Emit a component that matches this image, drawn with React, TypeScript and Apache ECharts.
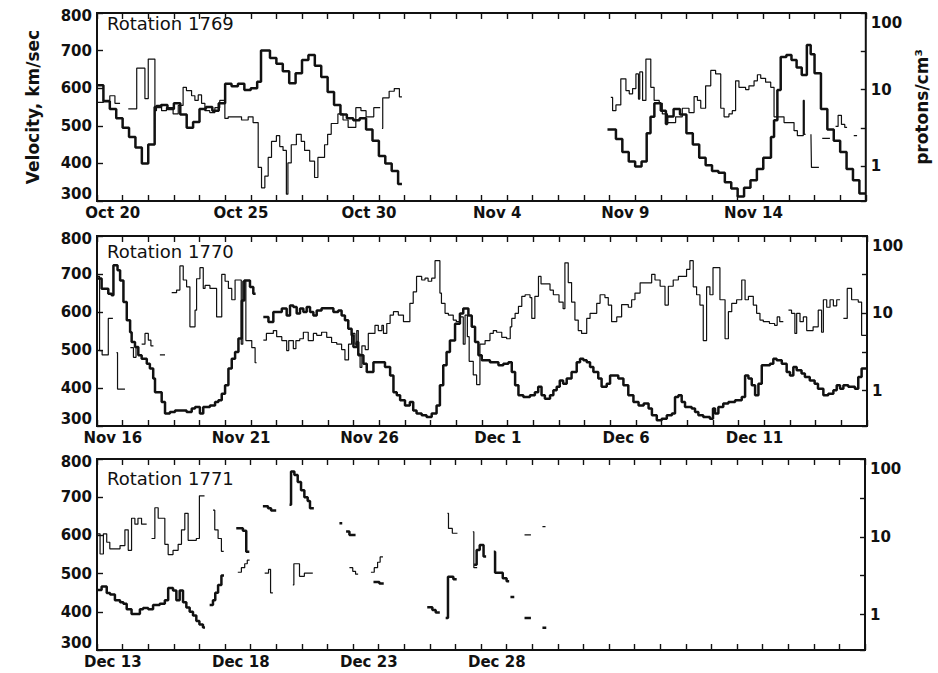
import React, { useEffect, useRef } from 'react';
import * as echarts from 'echarts';

// ---------------- data ----------------
const ROTATION_TITLES = ['Rotation 1769', 'Rotation 1770', 'Rotation 1771'];
const ROTATION_START = ['1962-10-20', '1962-11-16', '1962-12-13'];
const DAYS_SHOWN = 30;
const LABELED_DATES = [6, 6, 4]; // how many 5-day date labels each panel carries
const MONTH_NAMES = ['Jan', 'Feb', 'Mar', 'Apr', 'May', 'Jun', 'Jul', 'Aug', 'Sep', 'Oct', 'Nov', 'Dec'];
const VELOCITY_MIN = 300;
const VELOCITY_MAX = 800;
const VELOCITY_STEP = 100;
const DENSITY_MIN = 0.35;
const DENSITY_MAX = 100;
const VELOCITY_NAME = 'Velocity, km/sec';
const DENSITY_NAME = 'protons/cm³';

// [day from rotation start, value]; null = data gap begins
const vel1769 = [
  [0, 608], [0.25, 565], [0.5, 545], [0.75, 520], [1, 495], [1.25, 470], [1.5, 442], [1.75, 400], [2, 450], [2.25, 550],
  [2.5, 555], [2.75, 545], [3, 560], [3.25, 530], [3.5, 495], [3.75, 510], [4, 545], [4.25, 550], [4.5, 540], [4.75, 560],
  [5, 612], [5.25, 605], [5.5, 612], [5.75, 595], [6, 600], [6.25, 617], [6.4, 700], [6.75, 680], [7, 665], [7.25, 645],
  [7.5, 613], [7.75, 640], [8, 675], [8.25, 688], [8.5, 660], [8.75, 630], [9, 590], [9.25, 555], [9.5, 530], [9.75, 520],
  [10, 515], [10.25, 520], [10.5, 490], [10.75, 460], [11, 420], [11.25, 400], [11.5, 380], [11.75, 345], [11.9, null],
  [19.92, 490], [20.25, 465], [20.5, 430], [20.75, 405], [21, 392], [21.25, 405], [21.45, 480], [21.6, 524], [21.75, 560],
  [22, 540], [22.2, 505], [22.25, 525], [22.5, 545], [22.75, 530], [23, 480], [23.25, 450], [23.5, 415], [23.75, 395],
  [24, 380], [24.25, 375], [24.5, 350], [24.75, 333], [25, 312], [25.25, 335], [25.5, 355], [25.75, 385], [26, 415],
  [26.3, 470], [26.42, 515], [26.55, 595], [26.68, 683], [26.9, 688], [27.1, 675], [27.3, 655], [27.5, 635], [27.7, 715],
  [27.85, 690], [28, 640], [28.25, 545], [28.5, 490], [28.75, 460], [29, 430], [29.25, 385], [29.5, 355], [29.75, 320],
  [30, null],
];
const den1769 = [
  [0, 6.8], [0.25, 7.2], [0.5, 8.3], [0.7, 6.6], [0.9, null],
  [1.22, 5.6], [1.55, 19], [1.87, 7.6], [2.0, 25], [2.26, 5.3], [2.32, 6.2], [2.52, 5.3], [2.71, 5.8], [2.97, 4.8],
  [3.17, 6.2], [3.36, 10.7], [3.49, 9.7], [3.69, 8.3], [3.82, 7.2], [3.95, 8.5], [4.08, 6.6], [4.21, 5.3], [4.4, 5.0],
  [4.6, 5.8], [4.79, 7.2], [4.99, 4.2], [5.12, 4.4], [5.64, 4.0], [5.9, 4.4], [6.09, 3.7], [6.29, 0.96], [6.42, 0.52],
  [6.55, 0.74], [6.68, 1.3], [6.81, 2.1], [7.0, 2.5], [7.13, 1.8], [7.26, 1.6], [7.39, 0.43], [7.45, 1.1], [7.58, 1.9],
  [7.78, 2.6], [7.97, 2.1], [8.1, 1.6], [8.3, 1.16], [8.49, 0.71], [8.62, 1.3], [8.88, 1.9], [9.0, 2.6], [9.14, 3.6],
  [9.4, 4.8], [9.6, 4.0], [9.8, 3.2], [10.1, 5.8], [10.3, 5.3], [10.5, 4.4], [10.8, 5.8], [11.05, null],
  [11.12, 3.1], [11.15, 7.8], [11.4, 9.5], [11.6, 10.3], [11.8, 8.0], [11.9, null],
  [20.05, 7.9], [20.12, 5.3], [20.25, 6.3], [20.44, 13.8], [20.64, 9.7], [20.77, 8.8], [20.9, 10.3], [21.03, 16],
  [21.13, 7.5], [21.18, 17], [21.29, 7.2], [21.42, 25], [21.61, 10.7], [21.74, 7.2], [21.94, 6.6], [22.06, 4.8],
  [22.26, 3.7], [22.58, 4.4], [22.84, 5.7], [23.1, 5.0], [23.3, 8.1], [23.43, 7.2], [23.56, 5.7], [23.75, 11.2],
  [23.95, 17.8], [24.14, 16], [24.34, 5.7], [24.47, 4.4], [24.66, 4.8], [24.79, 5.3], [24.92, 13], [25.05, 10.7],
  [25.31, 10], [25.44, 11.2], [25.64, 13], [25.77, 15.6], [25.9, 14], [26.09, 12.5], [26.29, 10.7], [26.42, 4.4],
  [26.81, 3.7], [27.2, 2.9], [27.33, 2.5], [27.56, 7.2], [27.6, 2.6], [27.65, null],
  [27.86, 2.6], [27.88, 0.96], [28.17, null],
  [28.3, 2.3], [28.6, null],
  [28.82, 3.3], [28.92, 4.6], [29.05, 3.5], [29.18, 3.2], [29.27, null],
  [29.53, 2.5], [29.66, null],
];
const vel1770 = [
  [0, 688], [0.18, 661], [0.44, 648], [0.57, 644], [0.64, 723], [0.8, 710], [0.9, 683], [1.03, 626], [1.16, 578],
  [1.29, 547], [1.35, 521], [1.48, 508], [1.61, 486], [1.74, 477], [1.94, 464], [2.06, 451], [2.19, 425], [2.26, 389],
  [2.52, 363], [2.65, 333], [2.84, 337], [3.04, 341], [3.3, 341], [3.49, 337], [3.69, 346], [3.82, 350], [4.01, 333],
  [4.14, 350], [4.4, 354], [4.6, 363], [4.73, 368], [4.86, 385], [4.99, 407], [5.12, 451], [5.25, 477], [5.38, 495],
  [5.51, 530], [5.64, 630], [5.74, 683], [5.96, 666], [6.09, 648], [6.18, null],
  [6.48, 587], [6.68, 574], [6.87, 600], [7.2, 609], [7.39, 591], [7.52, 617], [7.65, 613], [7.78, 596], [7.91, 609],
  [8.04, 600], [8.17, 613], [8.3, 600], [8.43, 591], [8.56, 604], [8.75, 610], [9.21, 600], [9.4, 604], [9.53, 591],
  [9.66, 578], [9.79, 556], [9.92, 539], [9.99, 508], [10.12, 521], [10.18, 486], [10.38, 464], [10.51, 442],
  [10.77, 468], [11.22, 455], [11.42, 433], [11.55, 389], [11.68, 381], [11.81, 368], [12.0, 354], [12.19, 363],
  [12.32, 341], [12.45, 333], [12.65, 328], [12.84, 324], [13.04, 333], [13.23, 354], [13.36, 407], [13.49, 460],
  [13.62, 495], [13.75, 525], [13.95, 569], [14.14, 596], [14.27, 609], [14.47, 591], [14.6, 561], [14.73, 521],
  [14.86, 486], [14.99, 473], [15.31, 468], [15.64, 460], [15.83, 464], [16.03, 468], [16.16, 442], [16.29, 407],
  [16.42, 381], [16.61, 376], [16.87, 381], [17.06, 389], [17.19, 403], [17.32, 381], [17.45, 372], [17.65, 381],
  [17.78, 394], [17.91, 403], [18.03, 420], [18.16, 411], [18.3, 425], [18.49, 442], [18.69, 468], [18.82, 477],
  [18.95, 473], [19.08, 468], [19.21, 455], [19.34, 442], [19.53, 425], [19.66, 403], [19.86, 411], [19.99, 433],
  [20.31, 425], [20.51, 407], [20.7, 381], [20.9, 363], [21.1, 354], [21.3, 359], [21.49, 346], [21.62, 328],
  [21.81, 315], [22.0, 319], [22.2, 328], [22.4, 333], [22.52, 376], [22.65, 381], [22.78, 363], [22.91, 350],
  [23.17, 346], [23.3, 337], [23.43, 328], [23.62, 324], [23.88, 319], [24.0, 346], [24.08, 333], [24.21, 350],
  [24.4, 359], [24.6, 363], [24.86, 368], [25.12, 376], [25.25, 433], [25.38, 425], [25.51, 407], [25.64, 381],
  [25.77, 411], [25.9, 460], [26.22, 464], [26.35, 477], [26.48, 473], [26.68, 464], [26.87, 442], [27.0, 433],
  [27.13, 455], [27.26, 447], [27.45, 438], [27.58, 429], [27.77, 420], [27.96, 411], [28.09, 398], [28.3, 381],
  [28.49, 385], [28.69, 394], [28.82, 407], [28.95, 398], [29.08, 407], [29.27, 403], [29.53, 398], [29.66, 429],
  [29.79, 451], [30, null],
];
const den1770 = [
  [0, 30], [0.1, 3.3], [0.2, 2.9], [0.44, 8.6], [0.62, null],
  [0.76, 3.1], [0.8, 1.05], [1.09, null],
  [1.3, 3.6], [1.42, 2.7], [1.52, 3.6], [1.58, null],
  [1.74, 4.0], [1.87, 5.5], [2.0, 4.5], [2.1, 3.8], [2.2, null],
  [2.45, 2.9], [2.65, null],
  [2.91, 18.5], [3.1, 20], [3.23, 41], [3.36, 27], [3.49, 22], [3.62, 6.7], [3.82, 11], [3.88, 28], [4.01, 39],
  [4.14, 21], [4.21, 23], [4.4, 21], [4.66, 9], [4.86, 32], [4.99, 26], [5.12, 21], [5.25, 15], [5.38, 27], [5.62, 4.0],
  [5.68, 26], [5.8, 4.45], [6.03, 3.6], [6.16, 2.3], [6.22, null],
  [6.48, 4.5], [6.6, 5.5], [6.87, 6.0], [7.0, 5.0], [7.2, 4.45], [7.39, 3.3], [7.47, 4.45], [7.65, 3.5], [7.75, 4.45],
  [7.9, 4.7], [8.04, 5.7], [8.23, 4.45], [8.43, 5.5], [8.56, 5.2], [8.75, 5.7], [8.95, 4.9], [9.14, 4.2], [9.34, 4.0],
  [9.53, 3.4], [9.66, 2.5], [9.8, 4.0], [9.92, 5.5], [10.05, 4.0], [10.12, 6.0], [10.18, 3.0], [10.25, 2.0],
  [10.32, 3.8], [10.45, 3.4], [10.57, 5.5], [10.83, 7.0], [10.96, 6.0], [11.1, 7.0], [11.16, 5.5], [11.29, 7.4],
  [11.42, 9.5], [11.55, 10.5], [11.74, 9.5], [11.94, 7.8], [12.19, 13.5], [12.32, 19], [12.45, 30], [12.65, 27],
  [12.78, 28.5], [12.9, 26], [13.04, 28.5], [13.17, 48], [13.36, 18.3], [13.42, 13.5], [13.56, 10], [13.69, 9.5],
  [13.88, 8.2], [14.0, 7.8], [14.14, 9.0], [14.27, 4.0], [14.34, 9.5], [14.43, 5.0], [14.5, 2.4], [14.66, 1.6],
  [14.79, 1.2], [14.92, 4.0], [15.12, 4.45], [15.31, 5.5], [15.44, 6.0], [15.57, 5.7], [15.77, 4.9], [15.96, 4.7],
  [16.1, 6.7], [16.16, 8.6], [16.29, 10], [16.42, 12.3], [16.55, 16.6], [16.68, 17.4], [16.87, 16], [16.94, 8.6],
  [17.06, 16.6], [17.2, 30], [17.3, 24], [17.65, 20], [17.78, 17.4], [18.0, 14], [18.16, 11.5], [18.23, 45],
  [18.36, 25], [18.49, 14], [18.62, 8.2], [18.75, 6.0], [18.88, 5.5], [19.08, 8.6], [19.21, 10], [19.47, 13.5],
  [19.6, 17.4], [19.79, 16], [19.92, 12.8], [20.05, 7.8], [20.25, 9.0], [20.44, 13], [20.7, 12], [20.83, 15],
  [20.96, 18.3], [21.16, 24.8], [21.61, 32], [21.74, 27], [21.94, 22.4], [22.13, 12.8], [22.26, 22.4], [22.45, 27],
  [22.65, 30], [22.97, 37], [23.1, 48], [23.23, 22], [23.36, 17.4], [23.49, 12.8], [23.62, 4.45], [23.75, 22],
  [23.88, 17.4], [24.0, 39], [24.27, 15], [24.47, 4.7], [24.6, 10.5], [24.73, 13.5], [24.92, 15], [25.12, 27],
  [25.25, 15], [25.38, 16.6], [25.57, 12.8], [25.7, 10], [25.83, 8.2], [25.96, 7.8], [26.2, 7.4], [26.4, 7.0],
  [26.5, 9.0], [26.6, 7.8], [26.74, null],
  [26.94, 11], [27.06, 10], [27.19, 5.5], [27.26, 10], [27.39, 7.8], [27.52, 9.0], [27.65, 6.0], [27.9, 6.7],
  [28.1, 11], [28.23, 5.7], [28.3, 15], [28.43, 12], [28.56, 15], [28.69, 12.5], [28.82, 15], [28.95, null],
  [29.08, 8.6], [29.23, 21], [29.4, 15], [29.66, 14], [29.79, 5.2], [30, null],
];
const vel1771 = [
  [0, 457], [0.18, 466], [0.38, 449], [0.51, 445], [0.7, 430], [0.9, 425], [1.03, 421], [1.16, 407], [1.35, 394],
  [1.675, 407], [1.8, 410], [2.0, 407], [2.19, 418], [2.45, 421], [2.65, 430], [2.78, 462], [2.97, 456], [3.1, 430],
  [3.23, 456], [3.36, 425], [3.49, 411], [3.62, 400], [3.75, 390], [3.88, 376], [4.0, 367], [4.14, 359], [4.22, null],
  [4.4, 418], [4.53, 430], [4.62, 450], [4.73, 470], [4.86, 495], [4.96, null],
  [5.44, 619], [5.7, 612], [5.83, 557], [5.95, null],
  [6.48, 676], [6.68, 671], [6.8, 665], [7.0, null],
  [7.52, 680], [7.58, 767], [7.71, 758], [7.84, 740], [7.97, 718], [8.1, 700], [8.23, 690], [8.32, 671], [8.47, null],
  [9.47, 632], [9.58, null],
  [9.73, 610], [9.86, 601], [10.1, null],
  [10.8, 478], [11.03, 474], [11.2, null],
  [12.9, 412], [13.1, 405], [13.23, 398], [13.39, null],
  [13.62, 384], [13.71, 492], [13.92, 485], [14.05, null],
  [14.73, 523], [14.83, 562], [14.95, 575], [15.1, 545], [15.2, null],
  [15.5, 557], [15.55, 502], [15.85, 488], [16.0, 480], [16.1, null],
  [16.15, 439], [16.3, null],
  [16.7, 384], [16.95, null],
  [17.4, 358], [17.55, null],
];
const den1771 = [
  [0, 10.9], [0.12, 6.0], [0.25, 10.9], [0.38, 8.5], [0.5, 7.0], [0.9, 7.7], [1.09, 12.3], [1.22, 6.7], [1.35, 17.3],
  [1.48, 14.5], [1.6, 17.3], [1.74, 14.5], [1.94, null],
  [2.13, 9.5], [2.26, 23.6], [2.39, 17.3], [2.65, 8.0], [2.78, 5.9], [2.97, 6.7], [3.17, 8.0], [3.3, 12.3], [3.43, 20],
  [3.56, 9.0], [3.88, 9.5], [4.0, 33.6], [4.2, null],
  [4.53, 22], [4.6, 12.3], [4.73, 9.5], [4.86, 6.5], [4.95, null],
  [5.5, 3.5], [5.64, 4.0], [5.77, 4.5], [5.87, 5.0], [5.96, null],
  [6.55, 3.4], [6.7, 3.8], [6.78, 1.9], [6.87, null],
  [7.65, 2.4], [7.69, 4.5], [7.91, 3.1], [8.1, 3.4], [8.43, null],
  [9.86, 4.0], [9.99, 3.6], [10.1, 3.3], [10.2, null],
  [10.7, 3.5], [10.83, 4.0], [10.96, 4.7], [11.06, 5.5], [11.17, null],
  [13.69, 20], [13.73, 12.8], [13.88, 11.1], [14.08, null],
  [14.68, 11.6], [14.72, 4.0], [14.85, null],
  [16.7, 10.6], [16.95, null],
  [17.4, 13.5], [17.52, null],
];

const VELOCITY_SERIES = [vel1769, vel1770, vel1771];
const DENSITY_SERIES = [den1769, den1770, den1771];

// ---------------- layout & style ----------------
const GRIDS = [
  { left: 97, top: 13, width: 770, height: 188 },
  { left: 97, top: 236, width: 770, height: 190 },
  { left: 97, top: 459, width: 768, height: 191 },
];
const TITLE_POS = [[107, 25], [107, 253], [107, 480]];
const INK = '#111';
const FONT = 'DejaVu Sans';

function dayLabels(start: string): string[] {
  const [y, m, d] = start.split('-').map(Number);
  const out: string[] = [];
  for (let i = 0; i < DAYS_SHOWN; i++) {
    const dt = new Date(Date.UTC(y, m - 1, d + i));
    out.push(MONTH_NAMES[dt.getUTCMonth()] + ' ' + dt.getUTCDate());
  }
  return out;
}

function stepData(pairs: any[]): any[] {
  const out: any[] = [];
  let prev: number | null = null;
  for (const [d, v] of pairs) {
    if (v === null) {
      if (prev !== null) out.push([d, prev]);
      out.push([d, '-']);
      prev = null;
    } else {
      out.push([d, v]);
      prev = v;
    }
  }
  return out;
}

function buildOption() {
  const textBase = { color: INK, fontFamily: FONT, fontSize: 15, fontWeight: 'bold' };
  const nameStyle = { color: INK, fontFamily: FONT, fontSize: 17, fontWeight: 'bold' };
  const grid: any[] = [];
  const xAxis: any[] = [];
  const yAxis: any[] = [];
  const series: any[] = [];
  const graphic: any[] = [];

  GRIDS.forEach((g, i) => {
    grid.push({ ...g, show: true, borderColor: INK, borderWidth: 2, backgroundColor: 'transparent' });
    const labels = dayLabels(ROTATION_START[i]);
    const lastLabelIdx = (LABELED_DATES[i] - 1) * 5;
    xAxis.push({ type: 'value', gridIndex: i, min: 0, max: DAYS_SHOWN, show: false });
    xAxis.push({
      type: 'category', gridIndex: i, position: 'bottom', data: labels, boundaryGap: true,
      axisLine: { show: false },
      axisTick: { show: true, inside: true, length: 6, interval: 0, lineStyle: { color: INK, width: 1.4 } },
      axisLabel: {
        ...textBase, interval: 4, margin: 4, padding: [0, 0, 0, 6],
        formatter: (v: string, idx: number) => (idx <= lastLabelIdx ? v : ''),
      },
      splitLine: { show: false },
    });
    xAxis.push({
      type: 'category', gridIndex: i, position: 'top', data: labels, boundaryGap: true,
      axisLine: { show: false },
      axisTick: { show: true, inside: true, length: 6, interval: 0, lineStyle: { color: INK, width: 1.4 } },
      axisLabel: { show: false },
      splitLine: { show: false },
    });
    yAxis.push({
      type: 'value', gridIndex: i, position: 'left', min: VELOCITY_MIN, max: VELOCITY_MAX, interval: VELOCITY_STEP,
      axisLine: { show: false },
      axisTick: { show: true, inside: true, length: 6, lineStyle: { color: INK, width: 1.4 } },
      splitLine: { show: false },
      axisLabel: {
        ...textBase, margin: 5,
        formatter: (v: number) => (v === VELOCITY_MIN ? '{lo|' + v + '}' : v === VELOCITY_MAX ? '{hi|' + v + '}' : String(v)),
        rich: {
          lo: { ...textBase, padding: [0, 0, 14, 0] },
          hi: { ...textBase, padding: [6, 0, 0, 0] },
        },
      },
      name: i === 0 ? VELOCITY_NAME : '',
      nameLocation: 'middle', nameRotate: 90, nameGap: 56,
      nameTextStyle: nameStyle,
    });
    yAxis.push({
      type: 'log', gridIndex: i, position: 'right', logBase: Math.sqrt(10), min: DENSITY_MIN, max: DENSITY_MAX,
      axisLine: { show: false },
      axisTick: { show: true, inside: true, length: 5, lineStyle: { color: INK, width: 1.4 } },
      splitLine: { show: false },
      minorTick: { show: false },
      axisLabel: {
        ...textBase, margin: 5,
        formatter: (v: number) => {
          const l = Math.log10(v);
          if (Math.abs(l - Math.round(l)) > 0.02) return '';
          const r = Math.round(l);
          if (r < 0) return '';
          const s = String(Math.round(Math.pow(10, r)));
          return r === 2 ? '{hi|' + s + '}' : s;
        },
        rich: { hi: { ...textBase, padding: [20, 0, 0, 0] } },
      },
      name: i === 0 ? DENSITY_NAME : '',
      nameLocation: 'middle', nameRotate: 90, nameGap: 44,
      nameTextStyle: nameStyle,
    });

    series.push({
      type: 'line', name: 'velocity ' + ROTATION_TITLES[i], xAxisIndex: i * 3, yAxisIndex: i * 2,
      data: stepData(VELOCITY_SERIES[i]), step: 'end', showSymbol: false, symbol: 'none', silent: true,
      connectNulls: false, lineStyle: { color: INK, width: 2.5 }, z: 3,
    });
    series.push({
      type: 'line', name: 'density ' + ROTATION_TITLES[i], xAxisIndex: i * 3, yAxisIndex: i * 2 + 1,
      data: stepData(DENSITY_SERIES[i]), step: 'end', showSymbol: false, symbol: 'none', silent: true,
      connectNulls: false, lineStyle: { color: INK, width: 1.2 }, z: 2,
    });

    graphic.push({
      type: 'text', left: TITLE_POS[i][0], top: TITLE_POS[i][1] - 11,
      style: { text: ROTATION_TITLES[i], fill: INK, font: '18px "DejaVu Sans"' },
    });
  });

  return { animation: false, backgroundColor: '#fff', grid, xAxis, yAxis, series, graphic };
}

export default function App() {
  const ref = useRef<HTMLDivElement>(null);
  useEffect(() => {
    document.body.style.margin = '0';
    if (!ref.current) return;
    const chart = echarts.init(ref.current, null, { renderer: 'svg' });
    chart.setOption(buildOption() as any);
    return () => chart.dispose();
  }, []);
  return <div ref={ref} style={{ width: 938, height: 673, background: '#fff' }} />;
}
